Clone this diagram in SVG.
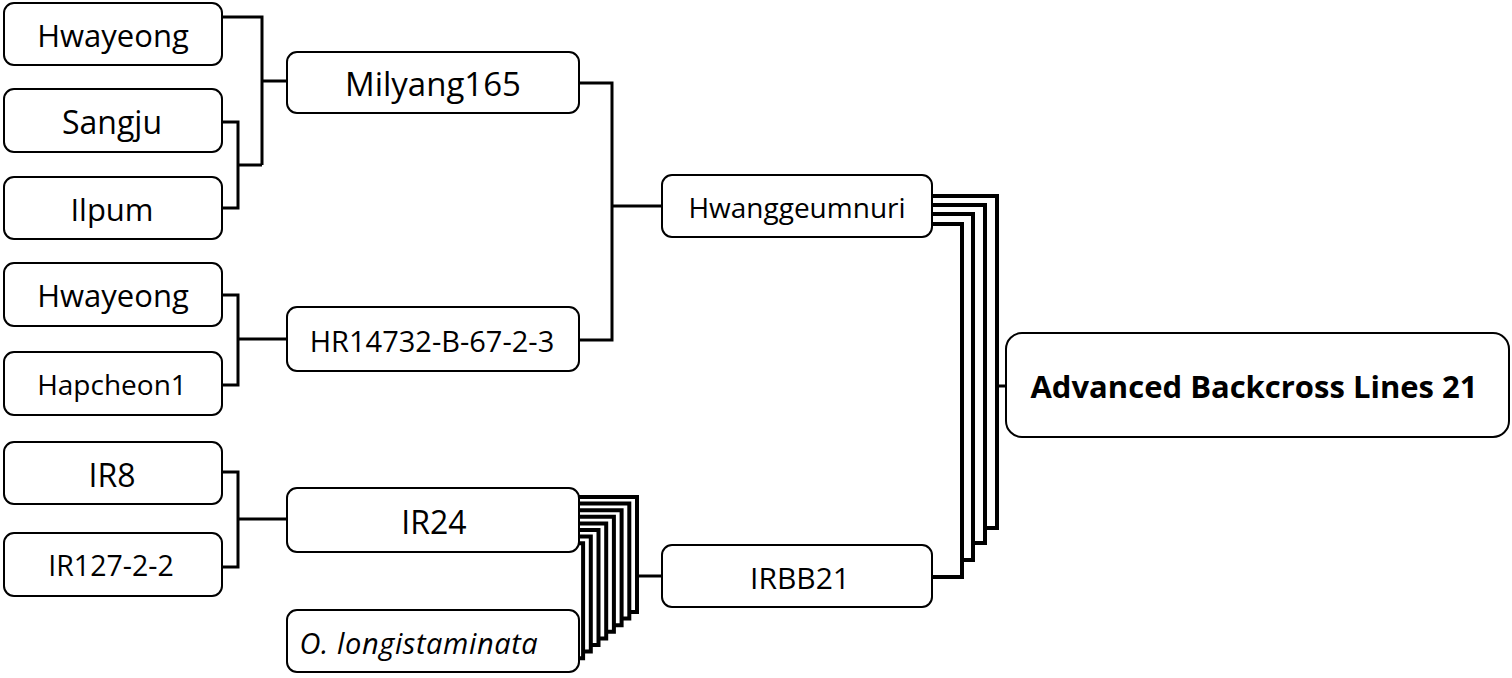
<svg xmlns="http://www.w3.org/2000/svg" width="1512" height="678" viewBox="0 0 1512 678">
<style>
.box{fill:#fff;stroke:#000;stroke-width:2}
.t{font-family:"Open Sans","Noto Sans",sans-serif;fill:#000;text-anchor:middle;dominant-baseline:central}
.c{fill:none;stroke:#000;stroke-width:3}
.m{fill:none;stroke:#000;stroke-width:4}
</style>
<rect width="1512" height="678" fill="#fff"/>
<g id="connectors">
<path class="c" d="M222 17 H262 V165 M262 81 H287"/>
<path class="c" d="M222 122 H238 V208 H222 M238 165 H262"/>
<path class="c" d="M579 83 H612 V340 H578 M612 206 H662"/>
<path class="c" d="M222 295 H238 V385 H222 M238 339 H287"/>
<path class="c" d="M222 472 H238 V567 H222 M238 519 H287"/>
<path class="m" d="M932 196 H997 V528 H985"/>
<path class="m" d="M932 205 H985 V543 H973"/>
<path class="m" d="M932 214 H973 V560 H962"/>
<path class="m" d="M932 224 H962 V577 H932"/>
<path class="c" d="M997 386 H1006"/>
<path class="m" d="M579 497 H637 V612 H629.3"/>
<path class="m" d="M579 503.6 H629.3 V618.6 H621.6"/>
<path class="m" d="M579 510.2 H621.6 V625.2 H613.9"/>
<path class="m" d="M579 516.8 H613.9 V631.8 H606.2"/>
<path class="m" d="M579 523.4 H606.2 V638.4 H598.5"/>
<path class="m" d="M579 530 H598.5 V645 H590.8"/>
<path class="m" d="M579 536.6 H590.8 V651.6 H583.1"/>
<path class="m" d="M579 543.2 H583.1 V658.2 H578"/>
<path class="c" d="M637 576 H662"/>
</g>
<g id="hwayeong1"><rect class="box" x="4" y="3" width="218" height="62" rx="10"/><text class="t" x="113" y="35" font-size="31">Hwayeong</text></g>
<g id="sangju"><rect class="box" x="4" y="89" width="218" height="63" rx="10"/><text class="t" x="112" y="121" font-size="32">Sangju</text></g>
<g id="ilpum"><rect class="box" x="4" y="177" width="218" height="62" rx="10"/><text class="t" x="112" y="209" font-size="31">Ilpum</text></g>
<g id="hwayeong2"><rect class="box" x="4" y="263" width="218" height="63" rx="10"/><text class="t" x="113" y="295" font-size="31">Hwayeong</text></g>
<g id="hapcheon1"><rect class="box" x="4" y="352" width="218" height="63" rx="10"/><text class="t" x="112" y="384" font-size="28">Hapcheon1</text></g>
<g id="ir8"><rect class="box" x="4" y="442" width="218" height="62" rx="10"/><text class="t" x="112" y="474" font-size="32">IR8</text></g>
<g id="ir127"><rect class="box" x="4" y="533" width="218" height="63" rx="10"/><text class="t" x="111" y="565" font-size="28.5">IR127-2-2</text></g>
<g id="milyang165"><rect class="box" x="287" y="52" width="292" height="61" rx="10"/><text class="t" x="433" y="83" font-size="33">Milyang165</text></g>
<g id="hr14732"><rect class="box" x="287" y="307" width="292" height="64" rx="10"/><text class="t" x="432" y="340" font-size="29">HR14732-B-67-2-3</text></g>
<g id="ir24"><rect class="box" x="287" y="488" width="292" height="64" rx="10"/><text class="t" x="434" y="521" font-size="32">IR24</text></g>
<g id="olongistaminata"><rect class="box" x="287" y="610" width="292" height="62" rx="10"/><text class="t" x="419" y="642" font-size="29" font-style="italic" letter-spacing="0.6">O. longistaminata</text></g>
<g id="hwanggeumnuri"><rect class="box" x="662" y="175" width="270" height="62" rx="10"/><text class="t" x="797" y="207" font-size="28">Hwanggeumnuri</text></g>
<g id="irbb21"><rect class="box" x="662" y="545" width="270" height="62" rx="10"/><text class="t" x="800" y="577" font-size="30">IRBB21</text></g>
<g id="abl21"><rect class="box" x="1006" y="333" width="503" height="104" rx="16"/><text class="t" x="1254" y="386" font-size="31" font-weight="bold">Advanced Backcross Lines 21</text></g>
</svg>
